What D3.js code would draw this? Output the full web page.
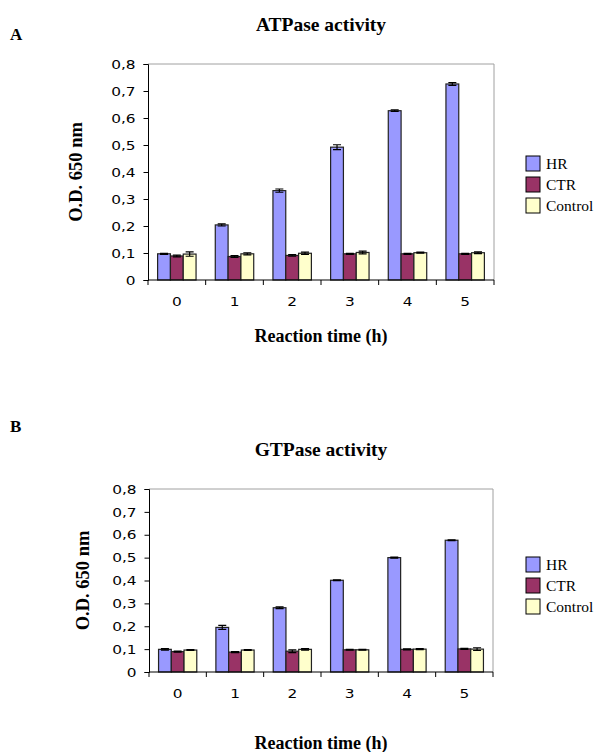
<!DOCTYPE html>
<html>
<head>
<meta charset="utf-8">
<script src="https://cdn.jsdelivr.net/npm/d3@7"></script>
<style>
  html, body { margin: 0; padding: 0; background: #fff; }
  svg { display: block; }
</style>
</head>
<body>
<svg id="chart" width="596" height="752"></svg>
<script>
// ---- data ----
const categories = ["0", "1", "2", "3", "4", "5"];
const seriesNames = ["HR", "CTR", "Control"];
const yTicks = [0, 0.1, 0.2, 0.3, 0.4, 0.5, 0.6, 0.7, 0.8];

const atpHR      = [0.097, 0.204, 0.331, 0.492, 0.627, 0.726];
const atpCTR     = [0.089, 0.087, 0.091, 0.097, 0.097, 0.097];
const atpControl = [0.096, 0.097, 0.099, 0.102, 0.101, 0.101];
const atpHRErr      = [0.002, 0.004, 0.006, 0.009, 0.003, 0.005];
const atpCTRErr     = [0.003, 0.003, 0.003, 0.002, 0.002, 0.002];
const atpControlErr = [0.008, 0.004, 0.004, 0.005, 0.002, 0.003];

const gtpHR      = [0.099, 0.195, 0.281, 0.401, 0.500, 0.576];
const gtpCTR     = [0.089, 0.087, 0.091, 0.097, 0.099, 0.101];
const gtpControl = [0.096, 0.096, 0.099, 0.097, 0.100, 0.100];
const gtpHRErr      = [0.003, 0.009, 0.004, 0.002, 0.002, 0.002];
const gtpCTRErr     = [0.002, 0.002, 0.006, 0.002, 0.002, 0.002];
const gtpControlErr = [0.002, 0.002, 0.003, 0.002, 0.002, 0.006];

const panelLetters = ["A", "B"];
const panelTitles = ["ATPase activity", "GTPase activity"];
const yTitle = "O.D. 650 nm";
const xTitle = "Reaction time (h)";

// ---- styles ----
const colors = ["#9999FF", "#993366", "#FFFFCC"];
const serif = "'Liberation Serif', 'Times New Roman', serif";
const sans = "'DejaVu Sans', Verdana, sans-serif";
const stretch = 1.18;

const panels = [
  { letter: panelLetters[0], title: panelTitles[0],
    values: [atpHR, atpCTR, atpControl], errs: [atpHRErr, atpCTRErr, atpControlErr],
    x0: 148, x1: 494, yTop: 64, yBot: 280,
    letterY: 40, titleY: 31, yLabX: 82, catY: 306, xTitleY: 342, legY: 156 },
  { letter: panelLetters[1], title: panelTitles[1],
    values: [gtpHR, gtpCTR, gtpControl], errs: [gtpHRErr, gtpCTRErr, gtpControlErr],
    x0: 149, x1: 493, yTop: 489, yBot: 672,
    letterY: 432, titleY: 456, yLabX: 89, catY: 698, xTitleY: 749, legY: 557 }
];

const svg = d3.select("#chart");

panels.forEach(p => {
  const g = svg.append("g");
  const x = d3.scaleBand().domain(categories).range([p.x0, p.x1]).paddingInner(0).paddingOuter(0);
  const xs = d3.scaleBand().domain(seriesNames).range([0, x.bandwidth()]).paddingInner(0).paddingOuter(0.75);
  const y = d3.scaleLinear().domain([0, 0.8]).range([p.yBot, p.yTop]);
  const cx = (p.x0 + p.x1) / 2;

  // panel letter
  g.append("text").attr("x", 10).attr("y", p.letterY)
    .attr("font-family", serif).attr("font-weight", "bold").attr("font-size", 17)
    .text(p.letter);

  // title
  g.append("text").attr("x", cx).attr("y", p.titleY).attr("text-anchor", "middle")
    .attr("font-family", serif).attr("font-weight", "bold").attr("font-size", 19.5)
    .text(p.title);

  // plot frame (top & right gray)
  g.append("path")
    .attr("d", `M${p.x0},${p.yTop}H${p.x1}V${p.yBot}`)
    .attr("fill", "none").attr("stroke", "#a0a0a0").attr("stroke-width", 1);

  // bars
  seriesNames.forEach((s, si) => {
    const vals = p.values[si], errs = p.errs[si];
    categories.forEach((c, ci) => {
      const bx = x(c) + xs(s);
      const bw = xs.bandwidth();
      g.append("rect")
        .attr("x", bx).attr("y", y(vals[ci]))
        .attr("width", bw).attr("height", y(0) - y(vals[ci]))
        .attr("fill", colors[si]).attr("stroke", "#222").attr("stroke-width", 1.2);
      // error bars
      const mx = bx + bw / 2;
      const hi = y(vals[ci] + errs[ci]), lo = y(vals[ci] - errs[ci]);
      g.append("path")
        .attr("d", `M${mx},${hi}V${lo}M${mx - 4},${hi}H${mx + 4}M${mx - 4},${lo}H${mx + 4}`)
        .attr("stroke", "#000").attr("stroke-width", 1.2).attr("fill", "none");
    });
  });

  // y axis
  const yAxis = d3.axisLeft(y).tickValues(yTicks).tickSize(4.5).tickPadding(8)
    .tickFormat(d => d === 0 ? "0" : d.toFixed(1).replace(".", ","));
  const ya = g.append("g").attr("transform", `translate(${p.x0},0)`).call(yAxis);
  ya.selectAll("text").attr("font-family", sans).attr("font-size", 13).attr("fill", "#000")
    .attr("x", -12.5 / stretch).attr("transform", `scale(${stretch},1)`);
  ya.selectAll("line, path").attr("stroke", "#000");

  // x axis: labels from axis, ticks at band boundaries
  const xAxis = d3.axisBottom(x).tickSize(0).tickPadding(0);
  const xa = g.append("g").attr("transform", `translate(0,${p.yBot})`).call(xAxis);
  xa.select(".domain").attr("stroke", "#000").attr("d", `M${p.x0},0H${p.x1}`);
  xa.selectAll("text").attr("font-family", sans).attr("font-size", 13).attr("fill", "#000")
    .attr("dy", null).attr("y", p.catY - p.yBot).attr("transform", `scale(${stretch},1)`);
  const bounds = categories.map(c => x(c)).concat([x.range()[1]]);
  g.selectAll(null).data(bounds).enter().append("line")
    .attr("x1", d => d).attr("x2", d => d)
    .attr("y1", p.yBot).attr("y2", p.yBot + 5)
    .attr("stroke", "#000");

  // y title
  g.append("text")
    .attr("transform", `translate(${p.yLabX},${(p.yTop + p.yBot) / 2}) rotate(-90)`)
    .attr("text-anchor", "middle")
    .attr("font-family", serif).attr("font-weight", "bold").attr("font-size", 18.5)
    .text(yTitle);

  // x title
  g.append("text").attr("x", cx).attr("y", p.xTitleY).attr("text-anchor", "middle")
    .attr("font-family", serif).attr("font-weight", "bold").attr("font-size", 18)
    .text(xTitle);

  // legend
  seriesNames.forEach((s, si) => {
    const ly = p.legY + si * 21;
    g.append("rect").attr("x", 526).attr("y", ly).attr("width", 14).attr("height", 15)
      .attr("fill", colors[si]).attr("stroke", "#000").attr("stroke-width", 1);
    g.append("text").attr("x", 546).attr("y", ly + 13)
      .attr("font-family", serif).attr("font-size", 15.5).text(s);
  });
});
</script>
</body>
</html>
